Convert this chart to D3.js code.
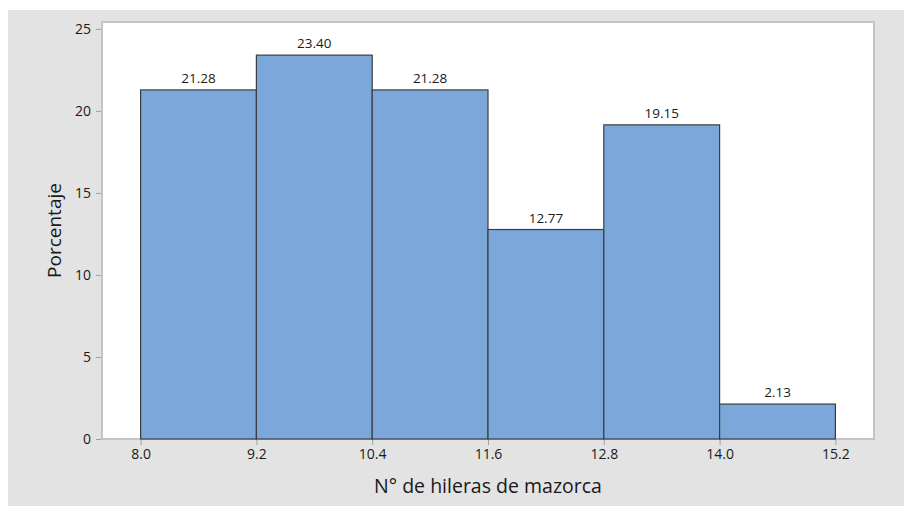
<!DOCTYPE html>
<html>
<head>
<meta charset="utf-8">
<script src="https://cdn.jsdelivr.net/npm/d3@7"></script>
<style>
  html, body { margin: 0; padding: 0; background: #ffffff; }
  svg { display: block; }
  text { font-family: "Open Sans", "Noto Sans", sans-serif; fill: #1a1a1a; }
</style>
</head>
<body>
<svg id="chart" width="904" height="506"></svg>
<script>
// Data
const binEdges = [8.0, 9.2, 10.4, 11.6, 12.8, 14.0, 15.2];
const percentages = [21.28, 23.40, 21.28, 12.77, 19.15, 2.13];
const barLabels = ["21.28", "23.40", "21.28", "12.77", "19.15", "2.13"];
const xTicks = [8.0, 9.2, 10.4, 11.6, 12.8, 14.0, 15.2];
const yTicks = [0, 5, 10, 15, 20, 25];
const xTitle = "N° de hileras de mazorca";
const yTitle = "Porcentaje";

const W = 904, H = 506;
const plot = { left: 102, top: 22, right: 874, bottom: 439 };

const svg = d3.select("#chart");

// outer gray panel
svg.append("rect").attr("x", 8).attr("y", 10).attr("width", W - 8).attr("height", H - 10)
  .attr("fill", "#e3e3e3");

// plot area
svg.append("rect").attr("x", plot.left).attr("y", plot.top)
  .attr("width", plot.right - plot.left).attr("height", plot.bottom - plot.top)
  .attr("fill", "#ffffff").attr("stroke", "#c4c4c4").attr("stroke-width", 2);

const x = d3.scaleLinear().domain([7.6, 15.6]).range([plot.left, plot.right]);
const y = d3.scaleLinear().domain([0, 25.42]).range([plot.bottom, plot.top]);

const bins = percentages.map((v, i) => ({ x0: binEdges[i], x1: binEdges[i + 1], v, label: barLabels[i] }));

svg.append("g").selectAll("rect").data(bins).join("rect")
  .attr("x", d => x(d.x0)).attr("y", d => y(d.v))
  .attr("width", d => x(d.x1) - x(d.x0)).attr("height", d => y(0) - y(d.v))
  .attr("fill", "#7ba7da").attr("stroke", "#3d3d3d").attr("stroke-width", 1.2);

svg.append("g").selectAll("text").data(bins).join("text")
  .attr("x", d => (x(d.x0) + x(d.x1)) / 2).attr("y", d => y(d.v) - 7)
  .attr("text-anchor", "middle").attr("font-size", 13.5)
  .text(d => d.label);

// axes
const xAxis = d3.axisBottom(x).tickValues(xTicks).tickFormat(d3.format(".1f")).tickSize(5).tickPadding(4);
const gx = svg.append("g").attr("transform", `translate(0,${plot.bottom + 1})`).call(xAxis);
gx.select(".domain").remove();
gx.selectAll("line").attr("stroke", "#a0a0a0");
gx.selectAll("text").attr("font-size", 14).attr("font-family", "'Open Sans', sans-serif").attr("fill", "#1a1a1a");

const yAxis = d3.axisLeft(y).tickValues(yTicks).tickSize(5).tickPadding(5);
const gy = svg.append("g").attr("transform", `translate(${plot.left - 1},0)`).call(yAxis);
gy.select(".domain").remove();
gy.selectAll("line").attr("stroke", "#a0a0a0");
gy.selectAll("text").attr("font-size", 14).attr("font-family", "'Open Sans', sans-serif").attr("fill", "#1a1a1a");

// titles
svg.append("text").attr("x", (plot.left + plot.right) / 2).attr("y", 493)
  .attr("text-anchor", "middle").attr("font-size", 19.5).text(xTitle);
svg.append("text").attr("transform", `translate(61,${(plot.top + plot.bottom) / 2}) rotate(-90)`)
  .attr("text-anchor", "middle").attr("font-size", 19).text(yTitle);
</script>
</body>
</html>
